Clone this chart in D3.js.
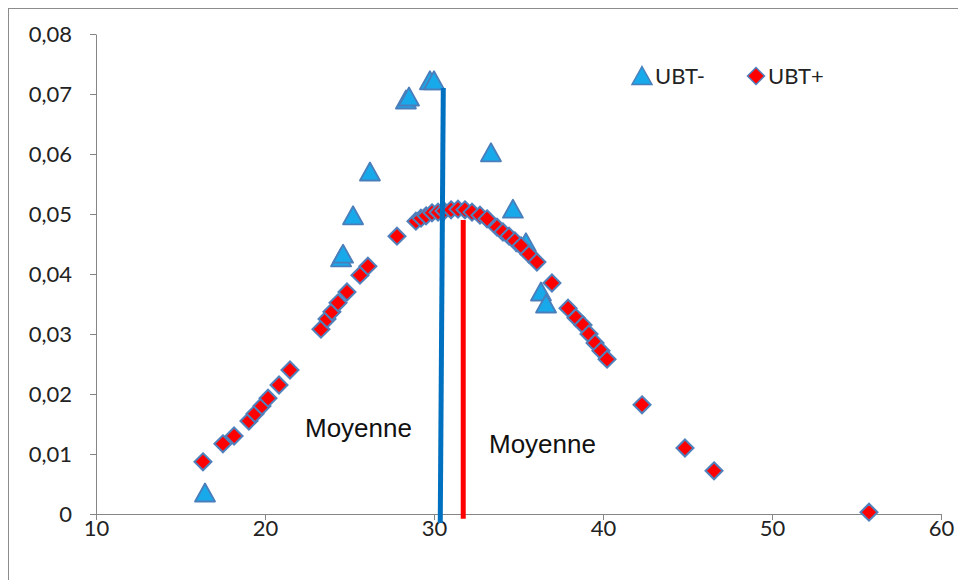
<!DOCTYPE html>
<html>
<head>
<meta charset="utf-8">
<script src="https://cdn.jsdelivr.net/npm/d3@7"></script>
<style>
  html, body { margin: 0; padding: 0; background: #fff; }
  svg { display: block; }
  .tick text { font-family: Lato, "Open Sans", sans-serif; fill: #222; }
</style>
</head>
<body>
<svg id="chart" width="958" height="580"></svg>
<script>
// UBT- series (triangles): [x, density]
const ubtMinusX = [16.45, 24.50, 24.62, 25.21, 26.21, 28.34, 28.52, 29.76, 30.00, 33.37, 34.67, 35.44, 36.33, 36.63];
const ubtMinusY = [0.0035, 0.0427, 0.0433, 0.0497, 0.0570, 0.0690, 0.0695, 0.0722, 0.0722, 0.0602, 0.0508, 0.0452, 0.0370, 0.0350];

// UBT+ series (diamonds)
const ubtPlusX = [16.33, 17.51, 18.17, 19.05, 19.41, 19.82, 20.18, 20.83, 21.48,
  23.31, 23.67, 23.96, 24.32, 24.85, 25.62, 26.09, 27.81,
  28.93, 29.23, 29.53, 29.88, 30.24, 30.59, 31.01, 31.42, 31.83, 32.25, 32.72, 33.14,
  33.73, 34.08, 34.44, 34.79, 35.15, 35.62, 36.09, 36.98, 37.93, 38.40, 38.82, 39.17,
  39.53, 39.88, 40.24, 42.31, 44.85, 46.57, 55.74];
const ubtPlusY = [0.0087, 0.0117, 0.0130, 0.0155, 0.0167, 0.0180, 0.0193, 0.0215, 0.0240,
  0.0308, 0.0325, 0.0337, 0.0352, 0.0370, 0.0398, 0.0413, 0.0463,
  0.0488, 0.0493, 0.0497, 0.0502, 0.0503, 0.0505, 0.0507, 0.0508, 0.0507, 0.0503, 0.0498, 0.0492,
  0.0478, 0.0470, 0.0463, 0.0455, 0.0447, 0.0433, 0.0420, 0.0385, 0.0343, 0.0327, 0.0315, 0.0300,
  0.0285, 0.0272, 0.0258, 0.0182, 0.0110, 0.0072, 0.0003];

// Mean markers: [x at bottom, x at top], [y bottom, y top]
const meanMinusX = [30.37, 30.55];
const meanMinusY = [-0.0015, 0.0710];
const meanPlusX = [31.73, 31.73];
const meanPlusY = [-0.0008, 0.0490];

const xTicks = [10, 20, 30, 40, 50, 60];
const yTicks = [0, 0.01, 0.02, 0.03, 0.04, 0.05, 0.06, 0.07, 0.08];
const seriesNames = ["UBT-", "UBT+"];
const meanLabel = "Moyenne";

const svg = d3.select("#chart");

// outer chart frame
svg.append("rect")
  .attr("x", 8.5).attr("y", 8.5)
  .attr("width", 960).attr("height", 580)
  .attr("fill", "none").attr("stroke", "#8c8c8c").attr("stroke-width", 1);

const x = d3.scaleLinear().domain([10, 60]).range([96, 941]);
const y = d3.scaleLinear().domain([0, 0.08]).range([514, 34]);

const fmt = v => v === 0 ? "0" : d3.format(".2f")(v).replace(".", ",");

const xAxis = svg.append("g")
  .attr("transform", `translate(0,${y(0)})`)
  .call(d3.axisBottom(x).tickValues(xTicks).tickSize(6).tickSizeOuter(0).tickPadding(0));
const yAxis = svg.append("g")
  .attr("transform", `translate(${x(10)},0)`)
  .call(d3.axisLeft(y).tickValues(yTicks).tickFormat(fmt).tickSize(6).tickSizeOuter(0).tickPadding(18));

[xAxis, yAxis].forEach(g => {
  g.select(".domain").attr("stroke", "#868686");
  g.selectAll(".tick line").attr("stroke", "#868686");
  g.selectAll(".tick text").attr("font-size", 22);
});
xAxis.selectAll(".tick text").attr("dy", "0.72em");

// marker shapes
const triPath = "M0,-9.5L10,8.5L-10,8.5Z";
const diaPath = "M0,-8.5L8.5,0L0,8.5L-8.5,0Z";

const minusData = ubtMinusX.map((v, i) => [v, ubtMinusY[i]]);
const plusData = ubtPlusX.map((v, i) => [v, ubtPlusY[i]]);

svg.append("g").selectAll("path").data(minusData).join("path")
  .attr("d", triPath)
  .attr("transform", d => `translate(${x(d[0])},${y(d[1])})`)
  .attr("fill", "#18a9ea").attr("stroke", "#4a7ebb").attr("stroke-width", 1.8)
  .attr("stroke-linejoin", "round");

svg.append("g").selectAll("path").data(plusData).join("path")
  .attr("d", diaPath)
  .attr("transform", d => `translate(${x(d[0])},${y(d[1])})`)
  .attr("fill", "#ff0000").attr("stroke", "#4f81bd").attr("stroke-width", 2);

// mean lines
const line = d3.line().x(d => x(d[0])).y(d => y(d[1]));
svg.append("path")
  .datum(meanMinusX.map((v, i) => [v, meanMinusY[i]]))
  .attr("d", line).attr("stroke", "#0070c0").attr("stroke-width", 5).attr("fill", "none");
svg.append("path")
  .datum(meanPlusX.map((v, i) => [v, meanPlusY[i]]))
  .attr("d", line).attr("stroke", "#ff0000").attr("stroke-width", 5).attr("fill", "none");

// mean labels
svg.append("text").attr("x", 305).attr("y", 437)
  .attr("font-family", "'Liberation Sans', Arial, sans-serif").attr("font-size", 26)
  .attr("fill", "#111").text(meanLabel);
svg.append("text").attr("x", 489).attr("y", 453)
  .attr("font-family", "'Liberation Sans', Arial, sans-serif").attr("font-size", 26)
  .attr("fill", "#111").text(meanLabel);

// legend
const legend = svg.append("g");
legend.append("path").attr("d", triPath).attr("transform", "translate(642,76)")
  .attr("fill", "#18a9ea").attr("stroke", "#4a7ebb").attr("stroke-width", 1.5);
legend.append("text").attr("x", 655).attr("y", 84)
  .attr("font-family", "Lato, 'Open Sans', sans-serif").attr("font-size", 22)
  .attr("fill", "#222").text(seriesNames[0]);
legend.append("path").attr("d", diaPath).attr("transform", "translate(756,76)")
  .attr("fill", "#ff0000").attr("stroke", "#4f81bd").attr("stroke-width", 1.5);
legend.append("text").attr("x", 768).attr("y", 84)
  .attr("font-family", "Lato, 'Open Sans', sans-serif").attr("font-size", 22)
  .attr("fill", "#222").text(seriesNames[1]);
</script>
</body>
</html>
